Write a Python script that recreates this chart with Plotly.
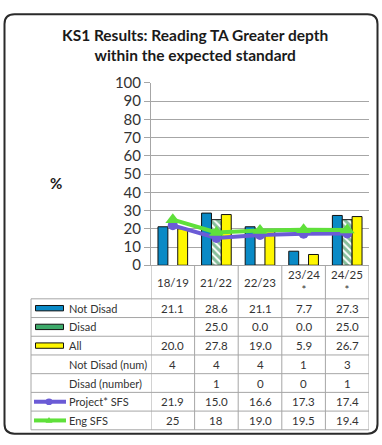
import plotly.graph_objects as go

W, H = 382, 445

categories = ["18/19", "21/22", "22/23", "23/24", "24/25"]
cat_labels = ["18/19", "21/22", "22/23", "23/24<br>*", "24/25<br>*"]

not_disad = [21.1, 28.6, 21.1, 7.7, 27.3]
disad = [None, 25.0, 0.0, 0.0, 25.0]
all_pupils = [20.0, 27.8, 19.0, 5.9, 26.7]
not_disad_num = [4, 4, 4, 1, 3]
disad_num = [None, 1, 0, 0, 1]
project_sfs = [21.9, 15.0, 16.6, 17.3, 17.4]
eng_sfs = [25, 18, 19.0, 19.5, 19.4]
eng_sfs_text = ["25", "18", "19.0", "19.5", "19.4"]

y_ticks = [0, 10, 20, 30, 40, 50, 60, 70, 80, 90, 100]

BLUE = "#0A8AC6"
GREEN_H = "#0E7E38"
YELLOW = "#FFF700"
PURPLE = "#6B5BD6"
LIME = "#5FE03A"
FONT = "Lato"
TXT = "#333333"


def px(x):
    return x / W


def py(y):
    return 1 - y / H


# geometry (pixels)
PL, PR = 151, 369
PT, PB = 76, 266
TL = 31
rows_y = [301, 320.5, 340, 359.5, 379, 398.5, 418, 437.5]

fig = go.Figure()

fig.add_trace(go.Bar(x=categories, y=not_disad, name="Not Disad",
                     marker=dict(color=BLUE, line=dict(color="#111", width=1))))
fig.add_trace(go.Bar(x=categories, y=disad, name="Disad",
                     marker=dict(color="white", line=dict(color="#111", width=1),
                                 pattern=dict(shape="\\", fgcolor=GREEN_H, bgcolor="white",
                                              size=5, solidity=0.6))))
fig.add_trace(go.Bar(x=categories, y=all_pupils, name="All",
                     marker=dict(color=YELLOW, line=dict(color="#111", width=1))))
fig.add_trace(go.Scatter(x=categories, y=project_sfs, name="Project* SFS", mode="lines+markers",
                         line=dict(color=PURPLE, width=4),
                         marker=dict(symbol="circle", size=10, color=PURPLE)))
fig.add_trace(go.Scatter(x=categories, y=eng_sfs, name="Eng SFS", mode="lines+markers",
                         line=dict(color=LIME, width=4),
                         marker=dict(symbol="triangle-up", size=13, color=LIME)))

shapes = []
annotations = []

# outer rounded frame
r = 10
x0, x1, y0, y1 = 4.5, 377.5, 4.5, 441.5
path = (f"M {px(x0 + r)},{py(y0)} L {px(x1 - r)},{py(y0)} "
        f"Q {px(x1)},{py(y0)} {px(x1)},{py(y0 + r)} "
        f"L {px(x1)},{py(y1 - r)} Q {px(x1)},{py(y1)} {px(x1 - r)},{py(y1)} "
        f"L {px(x0 + r)},{py(y1)} Q {px(x0)},{py(y1)} {px(x0)},{py(y1 - r)} "
        f"L {px(x0)},{py(y0 + r)} Q {px(x0)},{py(y0)} {px(x0 + r)},{py(y0)} Z")
shapes.append(dict(type="path", xref="paper", yref="paper", path=path,
                   line=dict(color="#2a2a2a", width=2)))

GRID = "#A6A6A6"
# table horizontal lines
for ry in rows_y:
    shapes.append(dict(type="line", xref="paper", yref="paper",
                       x0=px(TL), x1=px(PR), y0=py(ry), y1=py(ry),
                       line=dict(color=GRID, width=1)))
# table left border
shapes.append(dict(type="line", xref="paper", yref="paper",
                   x0=px(TL), x1=px(TL), y0=py(rows_y[0]), y1=py(rows_y[-1]),
                   line=dict(color=GRID, width=1)))
# category boundaries
for i in range(len(categories) + 1):
    xb = i - 0.5
    shapes.append(dict(type="line", xref="x", yref="paper",
                       x0=xb, x1=xb, y0=py(PB), y1=py(rows_y[-1]),
                       line=dict(color=GRID, width=1)))

# category labels
for c, lab in zip(categories, cat_labels):
    annotations.append(dict(x=c, xref="x", y=py(283.5), yref="paper", text=lab,
                            showarrow=False, yanchor="middle", xanchor="center",
                            font=dict(family=FONT, size=11.5, color=TXT)))

# table rows
row_texts = [
    ["" if v is None else f"{v:.1f}" for v in not_disad],
    ["" if v is None else f"{v:.1f}" for v in disad],
    ["" if v is None else f"{v:.1f}" for v in all_pupils],
    ["" if v is None else f"{v}" for v in not_disad_num],
    ["" if v is None else f"{v}" for v in disad_num],
    [f"{v:.1f}" for v in project_sfs],
    eng_sfs_text,
]
row_names = ["Not Disad", "Disad", "All", "Not Disad (num)", "Disad (number)",
             "Project* SFS", "Eng SFS"]

for ri, (name, texts) in enumerate(zip(row_names, row_texts)):
    cy = (rows_y[ri] + rows_y[ri + 1]) / 2
    annotations.append(dict(x=px(67), xref="paper", y=py(cy), yref="paper", text=name,
                            showarrow=False, xanchor="left", yanchor="middle",
                            font=dict(family=FONT, size=11, color=TXT)))
    for c, t in zip(categories, texts):
        annotations.append(dict(x=c, xref="x", y=py(cy), yref="paper", text=t,
                                showarrow=False, xanchor="center", yanchor="middle",
                                font=dict(family=FONT, size=11.5, color=TXT)))

# legend swatches: bars
for ri, fillc in [(0, BLUE), (1, "#3DAA6A"), (2, YELLOW)]:
    cy = (rows_y[ri] + rows_y[ri + 1]) / 2
    shapes.append(dict(type="rect", xref="paper", yref="paper",
                       x0=px(35.5), x1=px(63.5), y0=py(cy - 2.8), y1=py(cy + 2.8),
                       fillcolor=fillc, line=dict(color="#111", width=1)))
# legend swatches: lines
for ri, col in [(5, PURPLE), (6, LIME)]:
    cy = (rows_y[ri] + rows_y[ri + 1]) / 2
    shapes.append(dict(type="line", xref="paper", yref="paper",
                       x0=px(34), x1=px(66), y0=py(cy), y1=py(cy),
                       line=dict(color=col, width=4)))
cy = (rows_y[5] + rows_y[6]) / 2
shapes.append(dict(type="circle", xref="paper", yref="paper",
                   x0=px(45.5), x1=px(52.5), y0=py(cy - 3.5), y1=py(cy + 3.5),
                   fillcolor=PURPLE, line=dict(color=PURPLE, width=0)))
cy = (rows_y[6] + rows_y[7]) / 2
shapes.append(dict(type="path", xref="paper", yref="paper",
                   path=f"M {px(45.5)},{py(cy + 2.5)} L {px(52.5)},{py(cy + 2.5)} L {px(49)},{py(cy - 3.5)} Z",
                   fillcolor=LIME, line=dict(color=LIME, width=0)))

# title and axis title
annotations.append(dict(x=px(195), xref="paper", y=py(36), yref="paper",
                        text="<b>KS1 Results: Reading TA Greater depth<br>within the expected standard</b>",
                        showarrow=False, xanchor="center", yanchor="middle",
                        font=dict(family=FONT, size=15.5, color="#1a1a1a")))
annotations.append(dict(x=px(56), xref="paper", y=py(180), yref="paper",
                        text="<b>%</b>", showarrow=False, xanchor="center", yanchor="middle",
                        font=dict(family=FONT, size=15, color="#1a1a1a")))

fig.update_layout(
    width=W, height=H,
    margin=dict(l=0, r=0, t=0, b=0),
    paper_bgcolor="white", plot_bgcolor="white",
    showlegend=False,
    barmode="group", bargap=0.32, bargroupgap=0,
    shapes=shapes, annotations=annotations,
    xaxis=dict(domain=[px(PL), px(PR)], range=[-0.5, 4.5], showticklabels=False,
               showgrid=False, showline=True, linecolor=GRID, linewidth=1,
               ticks="", zeroline=False, fixedrange=True),
    yaxis=dict(domain=[py(PB), py(PT)], range=[0, 100], tickvals=y_ticks,
               showgrid=True, gridcolor=GRID, gridwidth=1,
               showline=True, linecolor=GRID, linewidth=1,
               ticks="outside", ticklen=6, tickcolor=GRID,
               tickfont=dict(family=FONT, size=15, color=TXT),
               zeroline=False, fixedrange=True),
)

fig.write_html("out.html")
